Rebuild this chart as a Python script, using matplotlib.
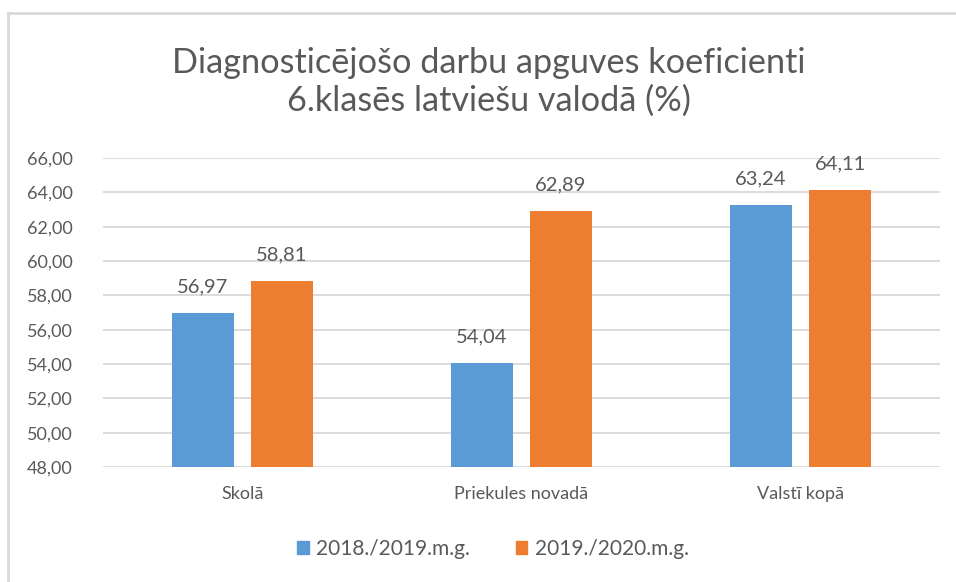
import matplotlib
matplotlib.use('Agg')
import matplotlib.pyplot as plt
import numpy as np
from matplotlib.lines import Line2D
from matplotlib.patches import Patch

# --- data ---
categories = ['Skolā', 'Priekules novadā', 'Valstī kopā']
series_names = ['2018./2019.m.g.', '2019./2020.m.g.']
values_2019 = [56.97, 54.04, 63.24]
values_2020 = [58.81, 62.89, 64.11]
y_ticks = [48, 50, 52, 54, 56, 58, 60, 62, 64, 66]

BLUE = '#5B9BD5'
ORANGE = '#ED7D31'
TEXT = '#595959'
GRID = '#D9D9D9'

plt.rcParams['font.family'] = ['Lato', 'DejaVu Sans']

fig = plt.figure(figsize=(9.56, 5.82), dpi=100)
ax = fig.add_axes([103 / 956, 1 - 467 / 582, 837 / 956, 309 / 582])

x = np.arange(len(categories))
w = 62 / 279
off = (62 + 17) / 2 / 279
b1 = ax.bar(x - off, values_2019, w, color=BLUE, zorder=2)
b2 = ax.bar(x + off, values_2020, w, color=ORANGE, zorder=2)

def fmt(v):
    return f'{v:.2f}'.replace('.', ',')

for bars in (b1, b2):
    for r in bars:
        ax.annotate(fmt(r.get_height()), (r.get_x() + r.get_width() / 2, r.get_height()),
                    xytext=(0, 13), textcoords='offset points', ha='center', va='bottom',
                    fontsize=14.5, color=TEXT)

ax.set_ylim(48, 66)
ax.set_xlim(-0.5, 2.5)
ax.set_yticks(y_ticks)
ax.set_yticklabels([fmt(t) for t in y_ticks], fontsize=13, color=TEXT)
ax.set_xticks(x)
ax.set_xticklabels(categories, fontsize=13, color=TEXT)
ax.tick_params(axis='both', length=0)
ax.tick_params(axis='y', pad=22)
ax.tick_params(axis='x', pad=14)
ax.grid(axis='y', color=GRID, linewidth=1.3, zorder=0)
for s in ax.spines.values():
    s.set_visible(False)

fig.text(489 / 956, 1 - 82 / 582, 'Diagnosticējošo darbu apguves koeficienti\n6.klasēs latviešu valodā (%)',
         ha='center', va='center', fontsize=24.7, color=TEXT, linespacing=1.2)

handles = [Patch(color=BLUE), Patch(color=ORANGE)]
fig.legend(handles, series_names, loc='center', bbox_to_anchor=(493 / 956, 1 - 549 / 582),
           ncol=2, frameon=False, fontsize=15, labelcolor=TEXT, handlelength=0.55,
           handleheight=0.55, handletextpad=0.35, columnspacing=2.2)

# chart border (left and top visible)
fig.add_artist(Line2D([8 / 956, 8 / 956], [0, 1 - 13 / 582], color=GRID, linewidth=2))
fig.add_artist(Line2D([8 / 956, 1], [1 - 13 / 582, 1 - 13 / 582], color=GRID, linewidth=2))

fig.savefig('out.png', dpi=100, facecolor='white')
